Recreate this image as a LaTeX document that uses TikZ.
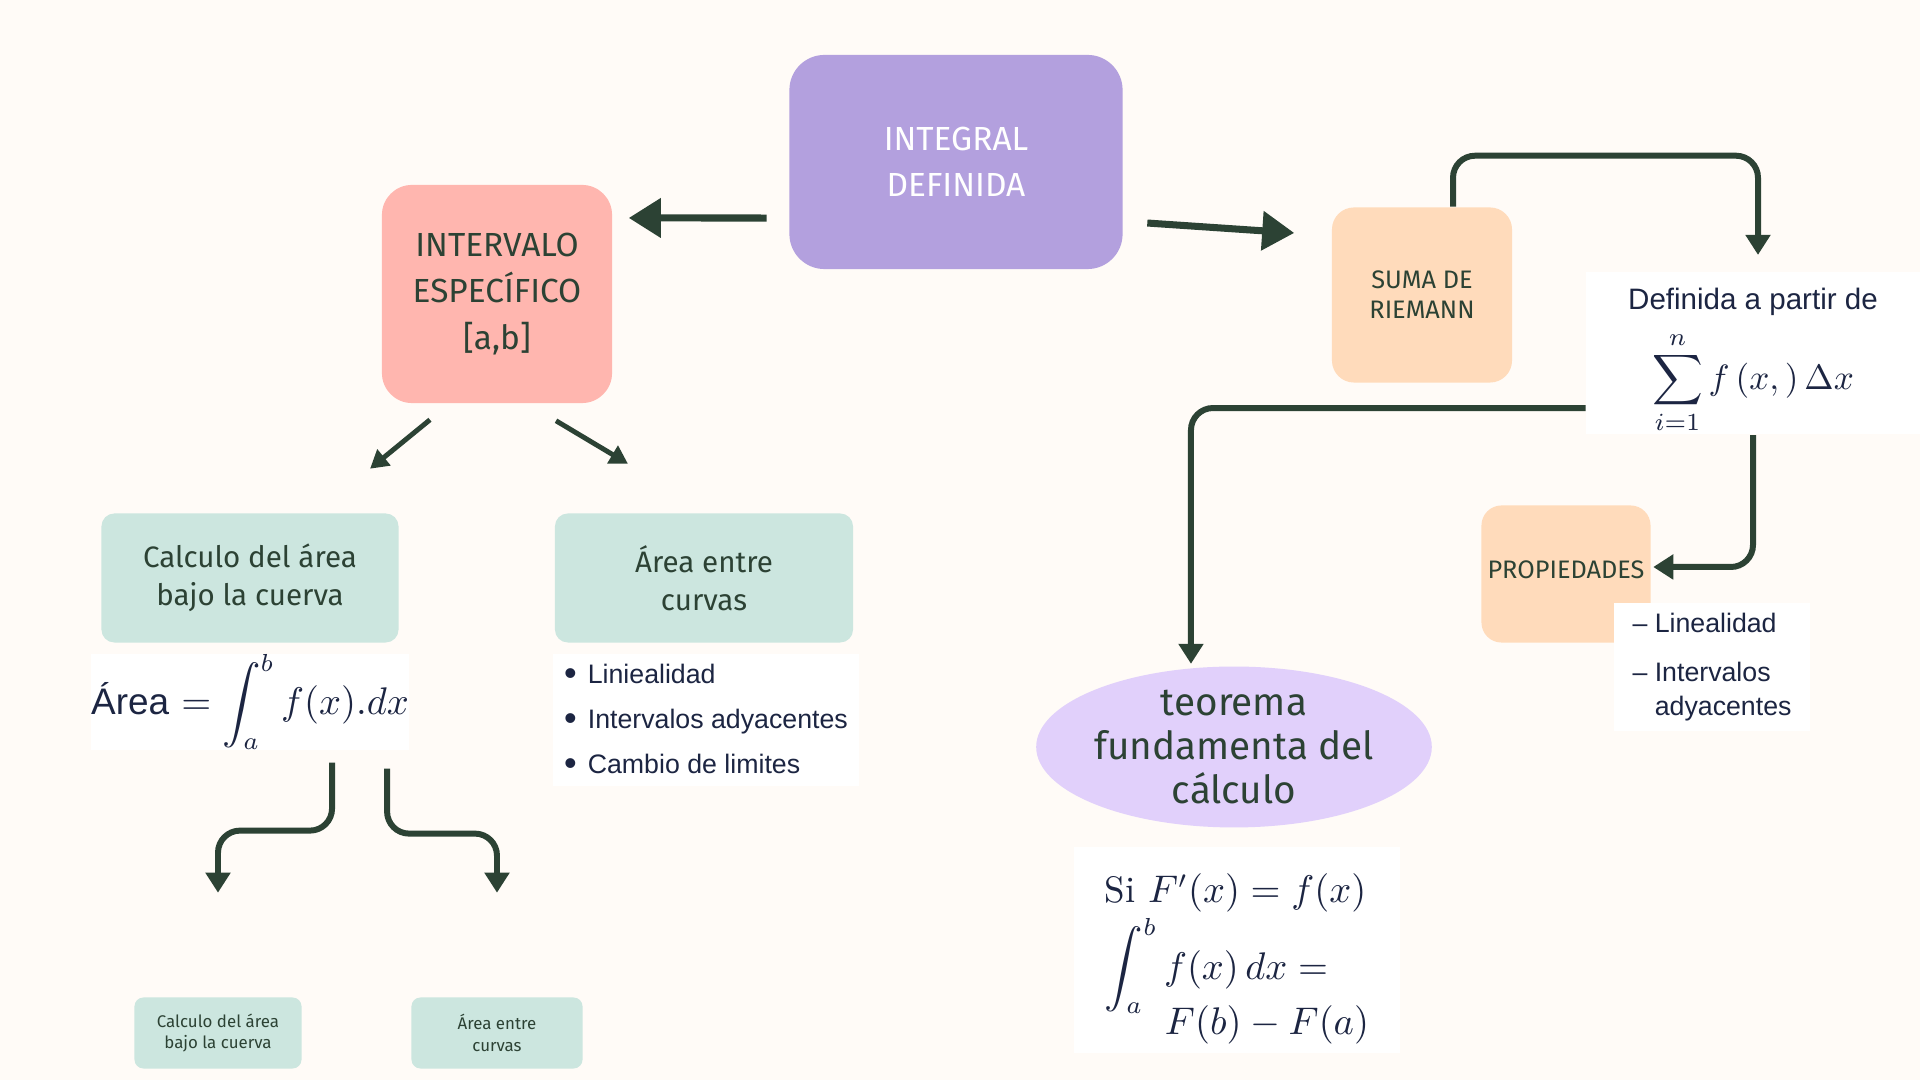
\documentclass[tikz,border=0pt]{standalone}
\usepackage{amsmath}
\usepackage{fontspec}
\usepackage{tikz}
\usetikzlibrary{arrows.meta,shapes.geometric}
\newfontfamily\handfont{Fira Sans}
\newfontfamily\bodyfont{Liberation Sans}
\definecolor{creambg}{HTML}{FFFBF7}
\definecolor{purplebox}{HTML}{B3A0DE}
\definecolor{pinkbox}{HTML}{FFB6AF}
\definecolor{tealbox}{HTML}{CCE6DF}
\definecolor{peachbox}{HTML}{FFDBBB}
\definecolor{lavender}{HTML}{E1D0FB}
\definecolor{darkgreen}{HTML}{2C4234}
\definecolor{navytext}{HTML}{1C2542}
\newcommand{\headfont}{\handfont\fontsize{9.5}{13.2}\selectfont}
\newcommand{\midfont}{\handfont\fontsize{7.2}{8.6}\selectfont}
\newcommand{\tealfont}{\handfont\fontsize{8.4}{10.8}\selectfont}
\newcommand{\tinyhand}{\handfont\fontsize{4.8}{6.2}\selectfont}
\newcommand{\listfont}{\bodyfont\fontsize{7.6}{12.8}\selectfont}
\newcommand{\dotitem}{\raisebox{-0.15mm}{\scalebox{1.35}{•}}\hspace{1.1mm}}
\tikzstyle{arrow_big} = [line width=2pt, draw=darkgreen, -{Triangle[width=3.8mm,length=3.2mm]}]
\tikzstyle{arrow_link} = [line width=1.7pt, draw=darkgreen, rounded corners=2.2mm, -{Triangle[width=2.4mm,length=2mm]}]
\tikzstyle{arrow_thin} = [line width=1.4pt, draw=darkgreen, -{Triangle[width=2mm,length=1.8mm]}]
\tikzstyle{box} = [inner sep=0pt, align=center, text=darkgreen]
\tikzstyle{box_teal} = [box, fill=tealbox, rounded corners=1.3mm]
\tikzstyle{box_white} = [inner sep=0pt, fill=white, text=navytext]

\begin{document}
\begin{tikzpicture}[x=0.01cm, y=-0.01cm]
        \fill[creambg] (0,0) rectangle (1920,1080);

        % top level
        \node (integral) [box, fill=purplebox, rounded corners=3.5mm, minimum width=33.3mm, minimum height=21.4mm, text=white, font=\headfont] at (956,162) {INTEGRAL\\DEFINIDA};
        \node (intervalo) [box, fill=pinkbox, rounded corners=3mm, minimum width=23mm, minimum height=21.8mm, font=\headfont] at (497,294) {INTERVALO\\ESPECÍFICO\\{[a,b]}};
        \node (suma) [box, fill=peachbox, rounded corners=2.2mm, minimum width=18mm, minimum height=17.5mm, font=\midfont] at (1422,295) {SUMA DE\\RIEMANN};

        % right branch
        \node (definida) [box_white, align=center, minimum width=33.3mm, minimum height=15.5mm] at (1753,353) {\rule{0pt}{3.8mm}{\bodyfont\fontsize{8.4}{10}\selectfont Definida a partir de}\\[1.2mm] $\displaystyle\sum_{i=1}^{n} f\,(x,)\,\Delta x$};
        \node (prop) [box, fill=peachbox, rounded corners=2mm, minimum width=16.9mm, minimum height=13.7mm, font=\midfont] at (1566,574) {\raisebox{0.9mm}{PROPIEDADES}};
        \node (lineal) [box_white, align=left, minimum width=19.6mm, minimum height=12.7mm, font=\listfont] at (1712,667) {– Linealidad\\[0.4mm] – Intervalos\\[-1.1mm] \phantom{– }adyacentes};
        \node (teorema) [box, ellipse, fill=lavender, minimum width=39.4mm, minimum height=14.3mm, font={\handfont\fontsize{11}{12.5}\selectfont}] at (1234,747) {teorema\\fundamenta del\\cálculo};
        \node (ftc) [box_white, align=left, minimum width=32.6mm, minimum height=20.6mm, font=\fontsize{10.5}{12}\selectfont] at (1237,950) {\rule{0pt}{4.6mm}Si $F'(x) = f(x)$\\[0.3mm] $\displaystyle\int_a^b f(x)\,dx =$\\[-1.2mm] \hspace{6mm}$F(b) - F(a)$};

        % left branch
        \node (calc) [box_teal, minimum width=29.7mm, minimum height=12.9mm, font=\tealfont] at (250,578) {Calculo del área\\bajo la cuerva};
        \node (areaf) [box_white, minimum width=31.5mm, minimum height=8.9mm, font=\fontsize{10.5}{12}\selectfont] at (250,702) {{\bodyfont Área} $= \displaystyle\int_a^b f(x).dx$};
        \node (entre) [box_teal, minimum width=29.8mm, minimum height=12.9mm, font=\tealfont] at (704,578) {Área entre\\curvas};
        \node (lista) [box_white, align=left, minimum width=30.5mm, minimum height=13.2mm, font=\listfont] at (706,720) {\dotitem Liniealidad\\ \dotitem Intervalos adyacentes\\ \dotitem Cambio de limites};
        \node (calc_small) [box_teal, rounded corners=0.9mm, minimum width=16.7mm, minimum height=7.1mm, font=\tinyhand] at (218,1033) {Calculo del área\\bajo la cuerva};
        \node (entre_small) [box_teal, rounded corners=0.9mm, minimum width=17.1mm, minimum height=7.1mm, font=\tinyhand] at (497,1033) {Área entre\\curvas};

        % connectors
        \draw [arrow_big] ([xshift=-2.2mm, yshift=-5.6mm]integral.west) -- ([xshift=1.6mm, yshift=7.6mm]intervalo.east);
        \draw [arrow_big] ([xshift=2.4mm, yshift=-6.1mm]integral.east) -- ([xshift=-3.7mm, yshift=6.2mm]suma.west);
        \draw [arrow_link] ([xshift=3.1mm]suma.north) -- ++(0,5.1mm) -| ([xshift=0.5mm, yshift=1.6mm]definida.north);
        \draw [arrow_link] ([yshift=-5.5mm]definida.west) -| ([xshift=-4.3mm, yshift=0.2mm]teorema.north);
        \draw [arrow_link] (definida.south) |- ([xshift=0.2mm, yshift=0.7mm]prop.east);
        \draw [arrow_thin] ([xshift=-6.7mm, yshift=-1.6mm]intervalo.south) -- ([xshift=12mm, yshift=4.4mm]calc.north);
        \draw [arrow_thin] ([xshift=5.9mm, yshift=-1.7mm]intervalo.south) -- ([xshift=-7.6mm, yshift=4.9mm]entre.north);
        \draw [arrow_link] ([xshift=8.2mm, yshift=-1.2mm]areaf.south) -- ++(0,-6.8mm) -| ([yshift=10.4mm]calc_small.north);
        \draw [arrow_link] ([xshift=13.7mm, yshift=-1.8mm]areaf.south) -- ++(0,-6.5mm) -| ([yshift=10.4mm]entre_small.north);
\end{tikzpicture}
\end{document}
